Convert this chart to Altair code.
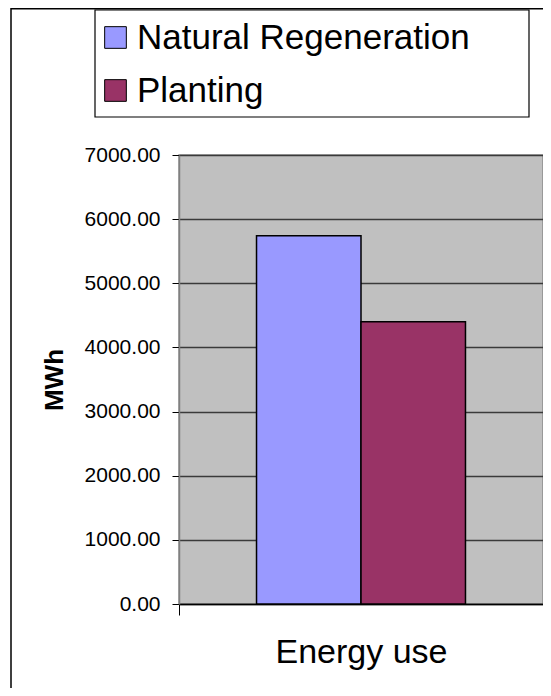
import altair as alt
import pandas as pd

categories = ["Energy use", "Energy use"]
series = ["Natural Regeneration", "Planting"]
values = [5740.0, 4400.0]
colors = ["#9999FF", "#993366"]
y_ticks = [0, 1000, 2000, 3000, 4000, 5000, 6000, 7000]

df = pd.DataFrame({"Category": categories, "Series": series, "MWh": values})
FONT = "Liberation Sans"

bars = alt.Chart(df).mark_bar(stroke="black", strokeWidth=1.5, opacity=1).encode(
    x=alt.X("Category:N", title=None,
            scale=alt.Scale(paddingInner=0, paddingOuter=0),
            axis=alt.Axis(tickBand="extent", tickSize=11, tickColor="black", tickWidth=1,
                          domainColor="black", domainWidth=1.5, labelFontSize=34,
                          labelFont=FONT, labelColor="black", labelBaseline="alphabetic",
                          labelPadding=47, labelAngle=0, grid=False)),
    xOffset=alt.XOffset("Series:N", scale=alt.Scale(paddingInner=0, paddingOuter=0.742)),
    y=alt.Y("MWh:Q", title="MWh",
            scale=alt.Scale(domain=[0, 7000], nice=False),
            axis=alt.Axis(values=y_ticks, format=".2f", labelFontSize=21, labelFont=FONT,
                          labelColor="black", tickSize=7, tickColor="black", labelPadding=12,
                          domainColor="#808080", domainWidth=1.5,
                          gridColor="#3a3a3a", gridWidth=1.3,
                          titleFont=FONT, titleFontSize=26, titleFontWeight="bold",
                          titleColor="black", titleX=-117, titleBaseline="alphabetic")),
    color=alt.Color("Series:N", scale=alt.Scale(domain=series, range=colors),
                    legend=alt.Legend(orient="none", legendX=-81, legendY=-135, title=None,
                                      labelFontSize=35, labelFont=FONT, labelColor="black",
                                      symbolType="square", symbolSize=470,
                                      symbolStrokeColor="black", symbolStrokeWidth=1,
                                      symbolOpacity=1, rowPadding=17, labelOffset=4,
                                      padding=0, labelLimit=500)),
)

frame_df = pd.DataFrame({"k": [0]})
legend_box = alt.Chart(frame_df).mark_rect(fill=None, stroke="black", strokeWidth=1.2).encode(
    x=alt.value(-84), x2=alt.value(350), y=alt.value(-145), y2=alt.value(-38))
outer_frame = alt.Chart(frame_df).mark_rect(fill=None, stroke="black", strokeWidth=1.5).encode(
    x=alt.value(-168), x2=alt.value(420), y=alt.value(-146.25), y2=alt.value(620))

chart = alt.layer(outer_frame, legend_box, bars).properties(
    width=364, height=449,
    autosize=alt.AutoSizeParams(type="none"),
    padding={"left": 171, "top": 147, "right": 0, "bottom": 84},
    background="white",
).configure_view(fill="#C0C0C0", stroke="#8c8c8c", strokeWidth=1.5)

chart.save("out.html", embed_options={"renderer": "svg", "actions": False})
